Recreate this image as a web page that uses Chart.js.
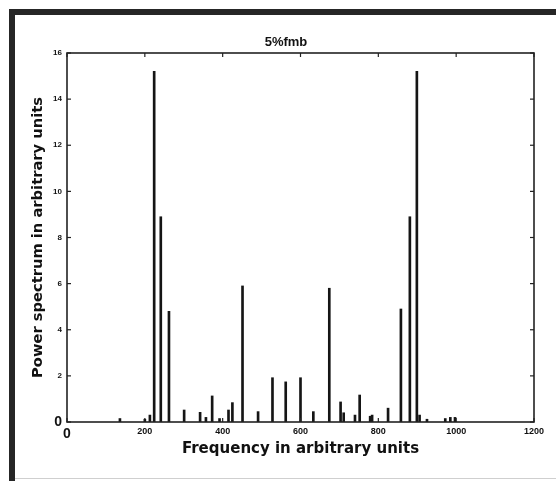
<!DOCTYPE html>
<html><head><meta charset="utf-8">
<script src="https://cdn.jsdelivr.net/npm/chart.js@4/dist/chart.umd.min.js"></script>
<style>
html,body{margin:0;padding:0;background:#fff;}
#wrap{position:relative;width:556px;height:481px;overflow:hidden;background:#fff;}
canvas{position:absolute;left:0;top:0;}
.fr{position:absolute;background:#262626;}
</style></head><body>
<div id="wrap">
<canvas id="c" width="556" height="481"></canvas>
<div class="fr" style="left:9px;top:9px;width:547px;height:6px"></div>
<div class="fr" style="left:9px;top:9px;width:6px;height:472px"></div>
<div style="position:absolute;left:15px;top:478px;width:541px;height:1px;background:#cfcfcf"></div>
</div>
<script>
const titleText = "5%fmb";
const xAxisTitle = "Frequency in arbitrary units";
const yAxisTitle = "Power spectrum in arbitrary units";
const xTickValues = [0, 200, 400, 600, 800, 1000, 1200];
const yTickValues = [0, 2, 4, 6, 8, 10, 12, 14, 16];
const frequencies = [136, 200, 213, 224, 241, 262, 301, 342, 357, 373, 392, 415, 425, 451, 491, 528, 562, 600, 633, 674, 703, 711, 740, 752, 779, 784, 825, 858, 881, 899, 906, 925, 972, 985, 997];
const powers      = [0.15, 0.12, 0.3, 15.2, 8.9, 4.8, 0.52, 0.42, 0.2, 1.13, 0.15, 0.52, 0.84, 5.9, 0.45, 1.92, 1.74, 1.92, 0.45, 5.8, 0.87, 0.4, 0.3, 1.17, 0.25, 0.3, 0.6, 4.9, 8.9, 15.2, 0.3, 0.12, 0.15, 0.2, 0.2];

const points = frequencies.map((f, i) => ({x: f, y: powers[i]}));

const boxTicks = {
  id: 'boxTicks',
  afterDatasetsDraw(chart) {
    const {ctx, chartArea: a, scales: {x, y}} = chart;
    ctx.save();
    ctx.strokeStyle = '#222';
    ctx.lineWidth = 1.6;
    ctx.strokeRect(a.left, a.top, a.right - a.left, a.bottom - a.top);
    ctx.lineWidth = 1.2;
    const L = 4;
    const seg = (x1, y1, x2, y2) => { ctx.beginPath(); ctx.moveTo(x1, y1); ctx.lineTo(x2, y2); ctx.stroke(); };
    x.ticks.forEach(t => {
      const px = x.getPixelForValue(t.value);
      seg(px, a.bottom, px, a.bottom - L);
      seg(px, a.top, px, a.top + L);
    });
    y.ticks.forEach(t => {
      const py = y.getPixelForValue(t.value);
      seg(a.left, py, a.left + L, py);
      seg(a.right, py, a.right - L, py);
    });
    ctx.restore();
  }
};

new Chart(document.getElementById('c'), {
  type: 'bar',
  data: {
    datasets: [{
      data: points,
      backgroundColor: '#151515',
      borderWidth: 0,
      barThickness: 2
    }]
  },
  options: {
    responsive: false,
    animation: false,
    events: [],
    layout: {padding: {left: 38, right: 22, top: 30, bottom: 0}},
    plugins: {
      legend: {display: false},
      tooltip: {enabled: false},
      title: {
        display: true,
        text: titleText,
        color: '#111',
        font: {family: 'Liberation Sans, Arial, sans-serif', size: 13, weight: 'bold', lineHeight: 1.2},
        padding: {top: 4.2, bottom: 3.2}
      }
    },
    scales: {
      x: {
        type: 'linear',
        min: 0, max: 1200,
        offset: false,
        afterBuildTicks: s => { s.ticks = xTickValues.map(v => ({value: v})); },
        grid: {display: false, drawTicks: false},
        border: {display: false},
        ticks: {
          autoSkip: false, maxRotation: 0, minRotation: 0, padding: 4,
          color: '#111',
          callback: v => String(v),
          font: c => (c.tick && c.tick.value === 0)
            ? {family: 'Liberation Sans, Arial, sans-serif', size: 14, weight: 'bold'}
            : {family: 'Liberation Sans, Arial, sans-serif', size: 9, weight: 'bold'}
        },
        title: {
          display: true, text: xAxisTitle, color: '#111',
          font: {family: 'DejaVu Sans, sans-serif', size: 15, weight: 'bold', lineHeight: 1.2},
          padding: {top: 0, bottom: 23}
        },
        afterFit: s => { s.height = 59; }
      },
      y: {
        min: 0, max: 16,
        afterBuildTicks: s => { s.ticks = yTickValues.map(v => ({value: v})); },
        grid: {display: false, drawTicks: false},
        border: {display: false},
        ticks: {
          autoSkip: false, padding: 5, color: '#111',
          callback: v => String(v),
          font: c => (c.tick && c.tick.value === 0)
            ? {family: 'Liberation Sans, Arial, sans-serif', size: 14, weight: 'bold'}
            : {family: 'Liberation Sans, Arial, sans-serif', size: 8, weight: 'bold'}
        },
        title: {
          display: true, text: yAxisTitle, color: '#111',
          font: {family: 'DejaVu Sans, sans-serif', size: 14.7, weight: 'bold', lineHeight: 1.2},
          padding: {top: -8.8, bottom: 0}
        },
        afterFit: s => { s.width = 29; }
      }
    }
  },
  plugins: [boxTicks]
});
</script>
</body></html>
